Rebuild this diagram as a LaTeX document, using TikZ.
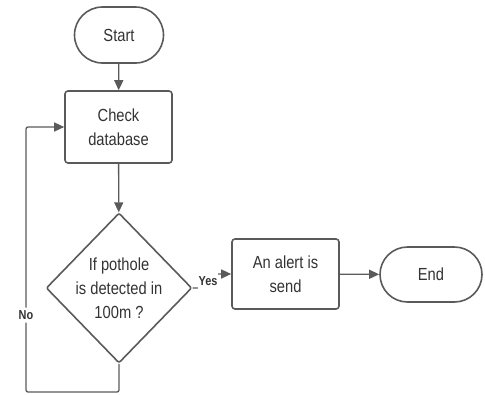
\documentclass[tikz,border=0pt]{standalone}
\usepackage{fontspec}
\setmainfont{Liberation Sans}
\newfontfamily\narrowfont[FakeStretch=0.84]{Liberation Sans}
\usetikzlibrary{arrows.meta,shapes.geometric,shapes.misc}
\definecolor{ink}{HTML}{333333}
\definecolor{edge}{HTML}{5A5A5A}
\newcommand{\body}{\narrowfont\fontsize{17.5}{24}\selectfont}
\newcommand{\tagfont}{\narrowfont\fontsize{13}{14}\selectfont\bfseries}
\tikzset{
 every node/.append style={text=ink,align=center},
 box/.style={draw=edge,fill=white,rounded corners=3pt,line width=1.6pt,font=\body,inner sep=2pt},
 pill/.style={draw=edge,fill=white,rounded rectangle,line width=1.6pt,font=\body,inner sep=2pt},
 decision/.style={draw=edge,fill=white,diamond,rounded corners=2pt,line width=1.6pt,font=\body,inner sep=0pt,aspect=0.97},
 tag/.style={font=\tagfont,fill=white,inner xsep=1pt,inner ysep=3pt},
 flow/.style={-{Triangle[length=10pt,width=9pt]},draw=edge,line width=1.3pt,rounded corners=2pt},
}
\begin{document}
\begin{tikzpicture}[x=1pt,y=-1pt]

\useasboundingbox (0,0) rectangle (485,394);
\node[pill,minimum width=93pt,minimum height=56pt] (start) at (119,35) {Start};
\node[box,minimum width=107pt,minimum height=72pt] (check) at (118.5,127) {Check\\database};
\node[decision,minimum width=130pt,minimum height=134pt] (cond) at (119,288) {If pothole\\is detected in\\100m ?};
\node[box,minimum width=107pt,minimum height=70pt] (alert) at (285.5,274) {An alert is\\send};
\node[pill,minimum width=106pt,minimum height=55pt] (finish) at (431,274.5) {End};
\coordinate (loop) at (26,392);
\draw[flow] (start) -- (check);
\draw[flow] (check) -- (cond);
\draw[flow] (cond.east) -- ++(21,0) |- (alert.west);
\draw[flow] (alert) -- (finish);
\draw[flow] (cond.south) |- (loop) |- node[tag,pos=.145] (no) {No} (check.west);
\node[tag] (yes) at (208,281) {Yes};
\end{tikzpicture}
\end{document}
